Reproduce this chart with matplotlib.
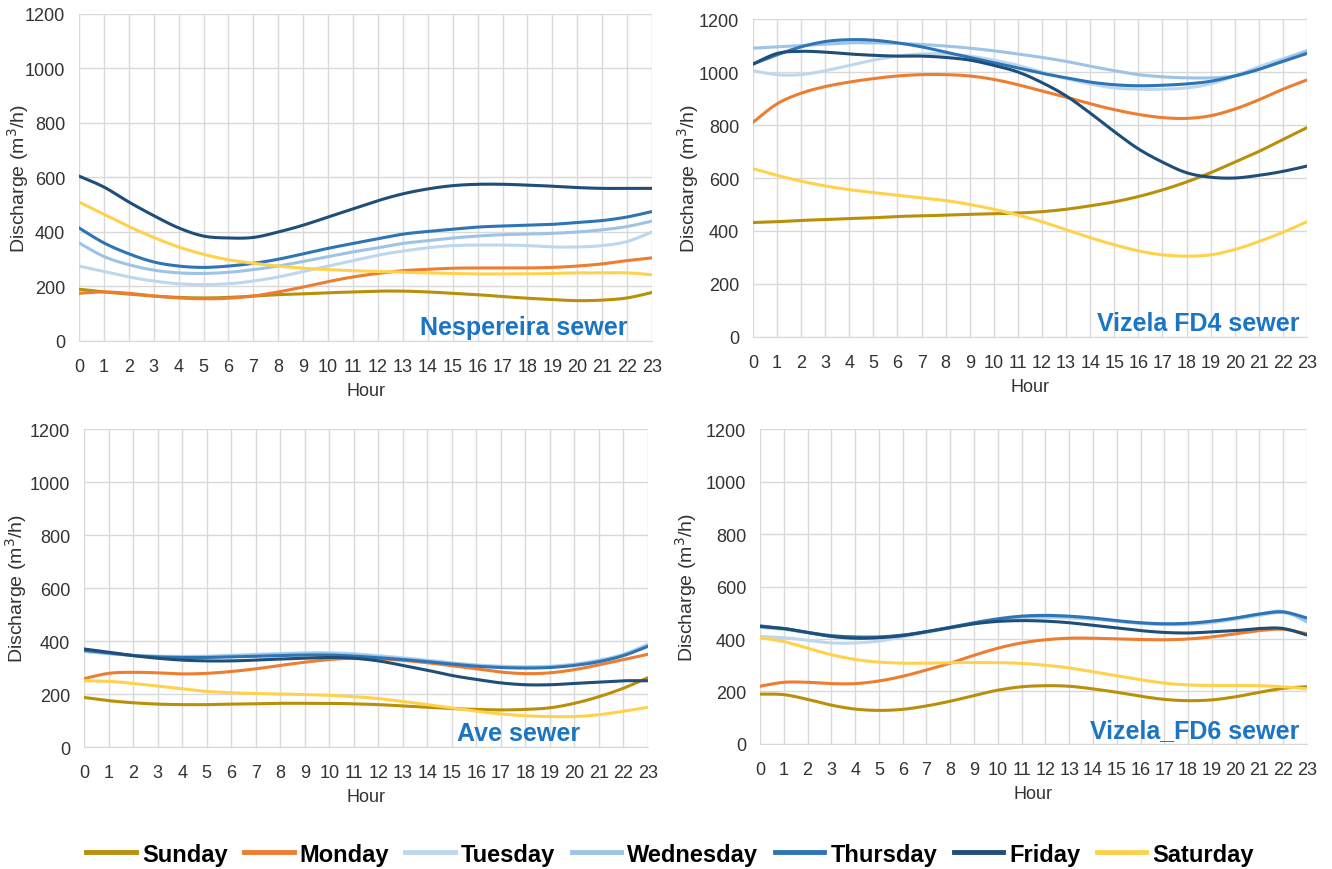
import numpy as np
import matplotlib
matplotlib.use("Agg")
import matplotlib.pyplot as plt
from matplotlib.lines import Line2D

hours = list(range(24))
days = ["Sunday", "Monday", "Tuesday", "Wednesday", "Thursday", "Friday", "Saturday"]
colors = ["#B8900A", "#ED7D31", "#BDD7EE", "#9DC3E6", "#2E75B6", "#1F4E79", "#FFD24D"]

# Nespereira sewer
nesp_sunday = [190, 180, 172, 165, 160, 158, 160, 165, 170, 173, 177, 180, 183, 183, 180, 175, 170, 163, 157, 152, 148, 150, 158, 178]
nesp_monday = [175, 180, 175, 165, 158, 155, 157, 165, 180, 198, 218, 235, 248, 258, 263, 267, 268, 268, 268, 270, 275, 283, 295, 305]
nesp_tuesday = [275, 255, 235, 220, 210, 207, 210, 220, 235, 255, 275, 295, 315, 330, 342, 350, 352, 352, 350, 345, 345, 350, 365, 400]
nesp_wednesday = [360, 310, 280, 260, 250, 248, 252, 262, 275, 292, 310, 327, 342, 358, 368, 378, 385, 390, 392, 395, 400, 408, 420, 440]
nesp_thursday = [415, 360, 320, 290, 275, 270, 275, 285, 300, 320, 340, 358, 375, 392, 402, 410, 418, 422, 425, 428, 435, 442, 455, 475]
nesp_friday = [605, 565, 510, 460, 415, 385, 378, 380, 400, 425, 455, 485, 515, 540, 558, 570, 575, 575, 572, 568, 563, 560, 560, 560]
nesp_saturday = [510, 465, 420, 380, 345, 318, 298, 285, 275, 267, 262, 258, 255, 252, 250, 248, 246, 246, 246, 248, 250, 250, 250, 243]

# Vizela FD4 sewer
fd4_sunday = [432, 435, 440, 443, 447, 450, 455, 457, 460, 463, 465, 468, 473, 482, 495, 510, 530, 555, 585, 620, 660, 700, 745, 790]
fd4_monday = [810, 880, 920, 945, 962, 975, 985, 990, 990, 985, 972, 952, 928, 905, 880, 858, 840, 828, 825, 835, 860, 895, 935, 970]
fd4_tuesday = [1005, 990, 990, 1005, 1025, 1045, 1060, 1068, 1068, 1060, 1045, 1025, 1000, 975, 955, 940, 935, 935, 940, 955, 985, 1020, 1050, 1080]
fd4_wednesday = [1090, 1095, 1100, 1105, 1110, 1110, 1108, 1104, 1098, 1090, 1080, 1068, 1055, 1040, 1022, 1005, 990, 982, 978, 978, 985, 1010, 1045, 1080]
fd4_thursday = [1030, 1065, 1095, 1115, 1122, 1120, 1110, 1095, 1075, 1055, 1035, 1015, 995, 978, 962, 952, 948, 950, 955, 965, 985, 1010, 1040, 1070]
fd4_friday = [1030, 1070, 1078, 1075, 1068, 1063, 1060, 1060, 1055, 1045, 1025, 1000, 960, 910, 845, 775, 710, 660, 620, 603, 600, 610, 625, 645]
fd4_saturday = [635, 610, 588, 570, 556, 545, 535, 525, 515, 500, 482, 460, 435, 405, 375, 348, 325, 310, 305, 310, 330, 360, 395, 435]

# Ave sewer
ave_sunday = [187, 175, 167, 162, 160, 160, 162, 163, 165, 165, 165, 163, 160, 155, 150, 145, 142, 140, 142, 148, 165, 190, 222, 262]
ave_monday = [258, 278, 282, 280, 276, 278, 285, 295, 308, 320, 330, 335, 333, 327, 318, 307, 295, 283, 277, 280, 292, 310, 330, 350]
ave_tuesday = [360, 352, 346, 343, 342, 343, 346, 350, 353, 356, 356, 352, 345, 337, 328, 318, 310, 305, 303, 305, 313, 328, 350, 388]
ave_wednesday = [362, 353, 346, 342, 340, 341, 344, 347, 350, 352, 352, 348, 341, 333, 325, 316, 308, 303, 301, 303, 311, 326, 348, 385]
ave_thursday = [365, 355, 345, 340, 338, 338, 340, 342, 345, 347, 347, 343, 337, 330, 322, 313, 305, 300, 298, 300, 308, 322, 345, 380]
ave_friday = [370, 358, 345, 335, 328, 325, 325, 328, 332, 335, 338, 335, 325, 308, 290, 270, 255, 242, 235, 235, 240, 245, 250, 250]
ave_saturday = [250, 248, 240, 230, 220, 210, 205, 202, 200, 198, 195, 190, 183, 172, 160, 148, 135, 125, 118, 115, 115, 122, 135, 150]

# Vizela FD6 sewer
fd6_sunday = [190, 188, 170, 148, 133, 128, 132, 145, 163, 185, 205, 218, 222, 220, 210, 197, 182, 170, 165, 168, 180, 197, 212, 218]
fd6_monday = [220, 235, 235, 230, 230, 240, 258, 282, 308, 338, 365, 385, 397, 403, 403, 400, 398, 397, 400, 408, 420, 432, 437, 420]
fd6_tuesday = [410, 405, 395, 385, 385, 392, 408, 425, 442, 458, 470, 478, 482, 480, 475, 468, 460, 455, 455, 462, 475, 490, 500, 475]
fd6_wednesday = [445, 437, 423, 410, 405, 406, 414, 427, 443, 460, 474, 484, 487, 484, 477, 468, 460, 456, 458, 466, 479, 495, 505, 465]
fd6_thursday = [450, 440, 425, 413, 408, 408, 415, 428, 445, 462, 477, 487, 490, 487, 480, 470, 462, 458, 460, 468, 480, 495, 503, 480]
fd6_friday = [448, 440, 425, 410, 403, 405, 413, 428, 443, 458, 467, 470, 468, 462, 452, 442, 432, 425, 423, 427, 432, 440, 440, 415]
fd6_saturday = [405, 390, 365, 340, 322, 312, 308, 308, 310, 310, 310, 307, 300, 290, 275, 260, 245, 232, 225, 223, 223, 222, 218, 210]

panels = [
    ("Nespereira sewer", [nesp_sunday, nesp_monday, nesp_tuesday, nesp_wednesday, nesp_thursday, nesp_friday, nesp_saturday]),
    ("Vizela FD4 sewer", [fd4_sunday, fd4_monday, fd4_tuesday, fd4_wednesday, fd4_thursday, fd4_friday, fd4_saturday]),
    ("Ave sewer", [ave_sunday, ave_monday, ave_tuesday, ave_wednesday, ave_thursday, ave_friday, ave_saturday]),
    ("Vizela_FD6 sewer", [fd6_sunday, fd6_monday, fd6_tuesday, fd6_wednesday, fd6_thursday, fd6_friday, fd6_saturday]),
]

# axes rectangles [left, bottom, width, height] in figure fraction
rects = [
    [0.0593, 0.6069, 0.4302, 0.3759],
    [0.5653, 0.6115, 0.4159, 0.3655],
    [0.0631, 0.1402, 0.4234, 0.3655],
    [0.5706, 0.1437, 0.4106, 0.3620],
]
label_x = [0.958, 0.986, 0.879, 0.987]
ylabel_x = [-0.106, -0.117, -0.121, -0.135]


def smooth(x, y, n=20):
    """Excel-like smoothed line (Bezier with 1/6 control offsets)."""
    x = np.asarray(x, float)
    y = np.asarray(y, float)
    P = np.column_stack([x, y])
    out = []
    for i in range(len(P) - 1):
        p0 = P[i - 1] if i > 0 else P[i]
        p1 = P[i]
        p2 = P[i + 1]
        p3 = P[i + 2] if i + 2 < len(P) else P[i + 1]
        c1 = p1 + (p2 - p0) / 6.0
        c2 = p2 - (p3 - p1) / 6.0
        t = np.linspace(0, 1, n, endpoint=(i == len(P) - 2))[:, None]
        seg = ((1 - t) ** 3) * p1 + 3 * ((1 - t) ** 2) * t * c1 + 3 * (1 - t) * t ** 2 * c2 + t ** 3 * p2
        out.append(seg)
    out = np.vstack(out)
    return out[:, 0], out[:, 1]


fam = ["Liberation Sans", "DejaVu Sans"]
plt.rcParams["font.family"] = fam

fig = plt.figure(figsize=(13.32, 8.70), dpi=100)
fig.patch.set_facecolor("white")

for (title, series), rect, lx, ylx in zip(panels, rects, label_x, ylabel_x):
    ax = fig.add_axes(rect)
    for vals, c in zip(series, colors):
        xs, ys = smooth(hours, vals)
        ax.plot(xs, ys, color=c, lw=2.2, solid_capstyle="round")
    ax.set_xlim(0, 23)
    ax.set_ylim(0, 1200)
    ax.set_xticks(hours)
    ax.set_yticks(range(0, 1201, 200))
    ax.grid(True, color="#D9D9D9", lw=1.0)
    ax.set_axisbelow(True)
    for s in ["top", "right", "left"]:
        ax.spines[s].set_visible(False)
    ax.spines["bottom"].set_color("#D9D9D9")
    ax.tick_params(axis="both", length=0, labelsize=13, colors="#333333")
    ax.tick_params(axis="x", pad=12)
    ax.tick_params(axis="y", pad=10)
    ax.set_xlabel("Hour", fontsize=13, color="#333333", labelpad=5)
    ax.set_ylabel("Discharge (m$^3$/h)", fontsize=14, color="#333333")
    ax.yaxis.label.set_va("center")
    ax.yaxis.set_label_coords(ylx, 0.5)
    ax.text(lx, 0.005, title, transform=ax.transAxes, ha="right", va="bottom",
            fontsize=18, fontweight="bold", color="#1B75C4")

handles = [Line2D([0], [0], color=c, lw=3.5) for c in colors]
fig.legend(handles, days, loc="center", bbox_to_anchor=(0.503, 0.017), ncol=7,
           frameon=False, handlelength=2.1, handletextpad=0.25, columnspacing=0.7,
           prop={"family": fam, "weight": "bold", "size": 17})

fig.savefig("out.png", dpi=100, facecolor="white")
